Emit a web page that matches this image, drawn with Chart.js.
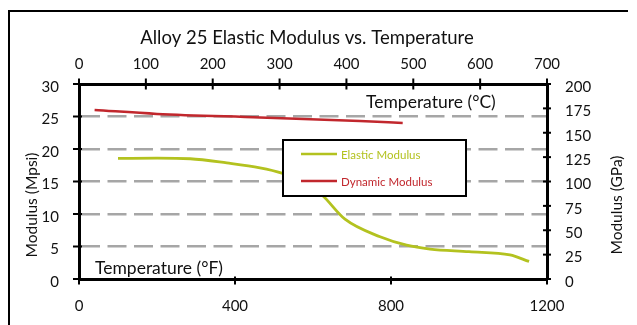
<!DOCTYPE html>
<html><head><meta charset="utf-8">
<script src="https://cdn.jsdelivr.net/npm/chart.js@4"></script>
<style>html,body{margin:0;padding:0;background:#fff}canvas{display:block}</style>
</head><body>
<canvas id="c" width="637" height="325"></canvas>
<script>
// ---- data ----
const elasticTempF = [100, 200, 285, 379, 464, 520, 575, 622, 682, 772, 840, 900, 1000, 1105, 1154];
const elasticMpsi  = [18.55, 18.6, 18.5, 17.85, 17.1, 16.3, 15.0, 13.0, 9.2, 6.5, 5.2, 4.6, 4.2, 3.7, 2.7];
const dynamicTempF = [40, 200, 464, 720, 830];
const dynamicMpsi  = [26.0, 25.4, 24.85, 24.3, 24.0];
const tempFTicks = [0, 400, 800, 1200];
const tempCTicks = [0, 100, 200, 300, 400, 500, 600, 700];
const mpsiTicks  = [0, 5, 10, 15, 20, 25, 30];
const gpaTicks   = [0, 25, 50, 75, 100, 125, 150, 175, 200];
const seriesNames = ['Elastic Modulus', 'Dynamic Modulus'];
const titleText = 'Alloy 25 Elastic Modulus vs. Temperature';

const GREEN = '#b3c21f', RED = '#c1272d', INK = '#111111';
const FONT = 'Lato, "Open Sans", sans-serif';

function pts(xs, ys) { return xs.map((x, i) => ({x, y: ys[i]})); }
function step(arr) { return arr[1] - arr[0]; }
const plain = v => String(v);

const decor = {
  id: 'decor',
  afterDatasetsDraw(chart) {
    const ctx = chart.ctx;
    ctx.save();
    ctx.fillStyle = '#fff';
    ctx.fillRect(283, 140, 183, 56);
    ctx.strokeStyle = '#000'; ctx.lineWidth = 2;
    ctx.strokeRect(283, 140, 183, 56);
    const rows = [154, 181];
    chart.data.datasets.forEach((ds, i) => {
      ctx.strokeStyle = ds.borderColor; ctx.lineWidth = 2.5;
      ctx.beginPath(); ctx.moveTo(301, rows[i]); ctx.lineTo(337, rows[i]); ctx.stroke();
      ctx.fillStyle = ds.borderColor;
      ctx.font = '11.5px ' + FONT; ctx.textBaseline = 'middle'; ctx.textAlign = 'left';
      ctx.fillText(ds.label, 341, rows[i] + 1);
    });
    ctx.restore();
  },
  afterDraw(chart) {
    const ctx = chart.ctx;
    const s = chart.scales;
    ctx.save();
    ctx.strokeStyle = '#000'; ctx.lineWidth = 2;
    const cross = (scale, horiz, axisPos, a, b) => {
      scale.ticks.forEach((t, i) => {
        const p = scale.getPixelForTick(i);
        ctx.beginPath();
        if (horiz) { ctx.moveTo(p, axisPos - a); ctx.lineTo(p, axisPos + b); }
        else { ctx.moveTo(axisPos - a, p); ctx.lineTo(axisPos + b, p); }
        ctx.stroke();
      });
    };
    const ca = chart.chartArea;
    cross(s.y, false, ca.left, 6, 3);
    cross(s.y2, false, ca.right, 4, 4);
    cross(s.x2, true, ca.top, 5.5, 5.5);
    cross(s.x, true, ca.bottom, 2.5, 5.5);
    ctx.lineWidth = 2;
    ctx.beginPath(); ctx.moveTo(9, 325); ctx.lineTo(9, 11); ctx.lineTo(628, 11); ctx.stroke();
    ctx.fillStyle = INK; ctx.textBaseline = 'middle'; ctx.textAlign = 'center';
    ctx.font = '18.5px ' + FONT;
    ctx.fillText(titleText, 307, 38);
    ctx.font = '15.5px ' + FONT;
    ctx.save(); ctx.translate(32, 205); ctx.rotate(-Math.PI / 2); ctx.fillText('Modulus (Mpsi)', 0, 0); ctx.restore();
    ctx.save(); ctx.translate(617, 205); ctx.rotate(-Math.PI / 2); ctx.fillText('Modulus (GPa)', 0, 0); ctx.restore();
    ctx.font = '17.5px ' + FONT; ctx.textAlign = 'left';
    ctx.fillText('Temperature (°C)', 366, 102);
    ctx.fillText('Temperature (°F)', 95, 268);
    ctx.restore();
  }
};

const tickFont = {family: FONT, size: 15};
new Chart(document.getElementById('c'), {
  type: 'line',
  data: {
    datasets: [
      {label: seriesNames[0], data: pts(elasticTempF, elasticMpsi), borderColor: GREEN, borderWidth: 2.8,
       pointRadius: 0, cubicInterpolationMode: 'monotone', xAxisID: 'x', yAxisID: 'y'},
      {label: seriesNames[1], data: pts(dynamicTempF, dynamicMpsi), borderColor: RED, borderWidth: 2.5,
       pointRadius: 0, cubicInterpolationMode: 'monotone', xAxisID: 'x', yAxisID: 'y'}
    ]
  },
  options: {
    responsive: false, animation: false, devicePixelRatio: 1,
    layout: {padding: 0},
    plugins: {legend: {display: false}, title: {display: false}, tooltip: {enabled: false}},
    scales: {
      x: {type: 'linear', position: 'bottom', min: tempFTicks[0], max: tempFTicks[tempFTicks.length - 1],
          ticks: {stepSize: step(tempFTicks), font: tickFont, color: INK, padding: 18, maxRotation: 0, callback: plain},
          grid: {display: false, drawTicks: false}, border: {display: true, color: '#000', width: 3},
          afterFit: sc => { sc.height = 46; }},
      x2: {type: 'linear', position: 'top', min: tempCTicks[0], max: tempCTicks[tempCTicks.length - 1],
          ticks: {stepSize: step(tempCTicks), font: tickFont, color: INK, padding: 11, maxRotation: 0, callback: plain},
          grid: {display: false, drawTicks: false}, border: {display: true, color: '#000', width: 3},
          afterFit: sc => { sc.height = 84; }},
      y: {type: 'linear', position: 'left', min: mpsiTicks[0], max: mpsiTicks[mpsiTicks.length - 1],
          ticks: {stepSize: step(mpsiTicks), font: tickFont, color: INK, padding: 20, labelOffset: 3, callback: plain},
          grid: {display: true, drawTicks: false, lineWidth: 2.5,
                 color: c => (c.tick && (c.tick.value === mpsiTicks[0] || c.tick.value === mpsiTicks[mpsiTicks.length - 1])) ? 'rgba(0,0,0,0)' : '#a6a6a6'},
          border: {display: true, color: '#000', width: 3, dash: [19, 7.5]},
          afterFit: sc => { sc.width = 79; }},
      y2: {type: 'linear', position: 'right', min: gpaTicks[0], max: gpaTicks[gpaTicks.length - 1],
          ticks: {stepSize: step(gpaTicks), font: tickFont, color: INK, padding: 18, labelOffset: 3, callback: plain},
          grid: {display: false, drawTicks: false}, border: {display: true, color: '#000', width: 3},
          afterFit: sc => { sc.width = 90; }}
    }
  },
  plugins: [decor]
});
</script>
</body></html>
